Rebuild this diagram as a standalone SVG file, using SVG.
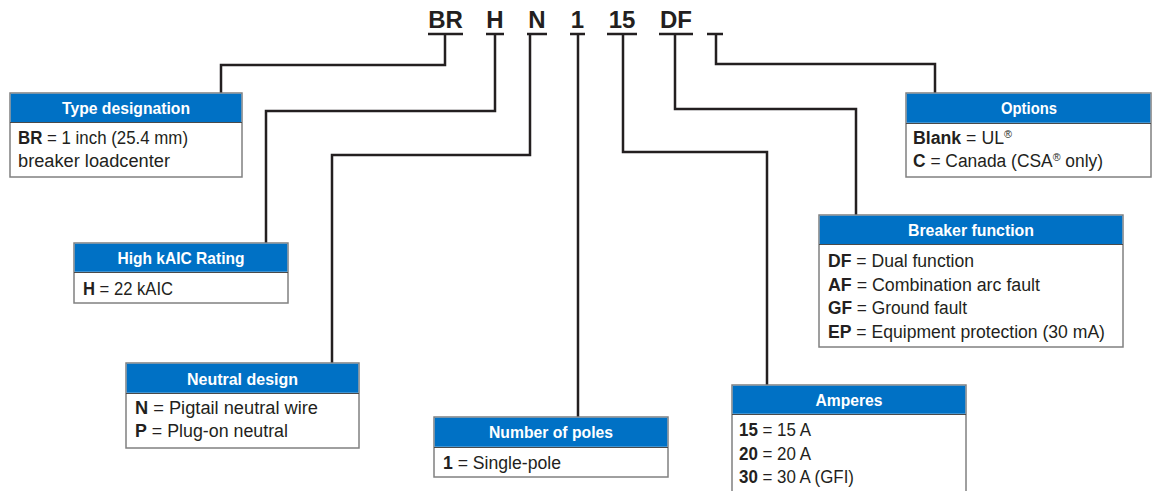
<svg xmlns="http://www.w3.org/2000/svg" width="1154" height="491" viewBox="0 0 1154 491">
<style>
.code{font-family:"Liberation Sans",Arial,sans-serif;font-weight:bold;font-size:24px;fill:#231f20;text-anchor:middle}
.hdr{font-family:"Liberation Sans",Arial,sans-serif;font-weight:bold;font-size:16.5px;fill:#fff;text-anchor:middle}
.txt{font-family:"Liberation Sans",Arial,sans-serif;font-size:18px;fill:#231f20}
.b{font-weight:bold}
.sup{font-size:11px}
.box{fill:#fff;stroke:#808080;stroke-width:1.5}
.head{fill:#0071c5}
.sep{stroke:#4a4a4a;stroke-width:1.2}
.con{fill:none;stroke:#231f20;stroke-width:2.5}
</style>
<rect width="1154" height="491" fill="#fff"/>
<g id="code">
<text class="code" x="445.5" y="28">BR</text>
<text class="code" x="495" y="28">H</text>
<text class="code" x="537" y="28">N</text>
<text class="code" x="577.5" y="28">1</text>
<text class="code" x="622" y="28">15</text>
<text class="code" x="676" y="28">DF</text>
</g>
<g id="connectors" class="con">
<path d="M428,34H463M486,34H504M527,34H547M570,34H585M607,34H637M659,34H693M707,34H723"/>
<path d="M445,34V65H221V93"/>
<path d="M495,34V111H266V243"/>
<path d="M530,34V155H332V363"/>
<path d="M578,34V417"/>
<path d="M623,34V152H767V385"/>
<path d="M675,34V109H856V215"/>
<path d="M716,34V64H935V93"/>
</g>
<g id="type">
<rect class="box" x="10" y="93" width="232" height="84"/>
<rect class="head" x="10.75" y="93.75" width="230.5" height="28.5"/>
<line class="sep" x1="10" y1="122.5" x2="242" y2="122.5"/>
<text class="hdr" x="126" y="114" textLength="128" lengthAdjust="spacingAndGlyphs">Type designation</text>
<text class="txt" x="18" y="144" textLength="170" lengthAdjust="spacingAndGlyphs"><tspan class="b">BR</tspan> = 1 inch (25.4 mm)</text>
<text class="txt" x="18" y="167" textLength="152" lengthAdjust="spacingAndGlyphs">breaker loadcenter</text>
</g>
<g id="kaic">
<rect class="box" x="74" y="243" width="214" height="60"/>
<rect class="head" x="74.75" y="243.75" width="212.5" height="28"/>
<line class="sep" x1="74" y1="272.5" x2="288" y2="272.5"/>
<text class="hdr" x="181" y="264" textLength="127" lengthAdjust="spacingAndGlyphs">High kAIC Rating</text>
<text class="txt" x="83" y="295" textLength="90" lengthAdjust="spacingAndGlyphs"><tspan class="b">H</tspan> = 22 kAIC</text>
</g>
<g id="neutral">
<rect class="box" x="126" y="363" width="233" height="85"/>
<rect class="head" x="126.75" y="363.75" width="231.5" height="29"/>
<line class="sep" x1="126" y1="393.5" x2="359" y2="393.5"/>
<text class="hdr" x="242.5" y="385" textLength="111" lengthAdjust="spacingAndGlyphs">Neutral design</text>
<text class="txt" x="135" y="414" textLength="183" lengthAdjust="spacingAndGlyphs"><tspan class="b">N</tspan> = Pigtail neutral wire</text>
<text class="txt" x="135" y="437" textLength="153" lengthAdjust="spacingAndGlyphs"><tspan class="b">P</tspan> = Plug-on neutral</text>
</g>
<g id="poles">
<rect class="box" x="434" y="417" width="234" height="60"/>
<rect class="head" x="434.75" y="417.75" width="232.5" height="29"/>
<line class="sep" x1="434" y1="447.5" x2="668" y2="447.5"/>
<text class="hdr" x="551" y="438" textLength="124" lengthAdjust="spacingAndGlyphs">Number of poles</text>
<text class="txt" x="443" y="469" textLength="118" lengthAdjust="spacingAndGlyphs"><tspan class="b">1</tspan> = Single-pole</text>
</g>
<g id="amperes">
<rect class="box" x="732" y="385" width="234" height="112"/>
<rect class="head" x="732.75" y="385.75" width="232.5" height="28"/>
<line class="sep" x1="732" y1="414.5" x2="966" y2="414.5"/>
<text class="hdr" x="849" y="406" textLength="67" lengthAdjust="spacingAndGlyphs">Amperes</text>
<text class="txt" x="739" y="436" textLength="72" lengthAdjust="spacingAndGlyphs"><tspan class="b">15</tspan> = 15 A</text>
<text class="txt" x="739" y="460" textLength="72" lengthAdjust="spacingAndGlyphs"><tspan class="b">20</tspan> = 20 A</text>
<text class="txt" x="739" y="483" textLength="115" lengthAdjust="spacingAndGlyphs"><tspan class="b">30</tspan> = 30 A (GFI)</text>
</g>
<g id="function">
<rect class="box" x="819" y="215" width="304" height="132"/>
<rect class="head" x="819.75" y="215.75" width="302.5" height="28.5"/>
<line class="sep" x1="819" y1="244.5" x2="1123" y2="244.5"/>
<text class="hdr" x="971" y="236" textLength="126" lengthAdjust="spacingAndGlyphs">Breaker function</text>
<text class="txt" x="828" y="267" textLength="146" lengthAdjust="spacingAndGlyphs"><tspan class="b">DF</tspan> = Dual function</text>
<text class="txt" x="828" y="291" textLength="212" lengthAdjust="spacingAndGlyphs"><tspan class="b">AF</tspan> = Combination arc fault</text>
<text class="txt" x="828" y="314" textLength="139" lengthAdjust="spacingAndGlyphs"><tspan class="b">GF</tspan> = Ground fault</text>
<text class="txt" x="828" y="338" textLength="277" lengthAdjust="spacingAndGlyphs"><tspan class="b">EP</tspan> = Equipment protection (30 mA)</text>
</g>
<g id="options">
<rect class="box" x="906" y="93" width="245" height="84"/>
<rect class="head" x="906.75" y="93.75" width="243.5" height="29"/>
<line class="sep" x1="906" y1="123.5" x2="1151" y2="123.5"/>
<text class="hdr" x="1029" y="114" textLength="56" lengthAdjust="spacingAndGlyphs">Options</text>
<text class="txt" x="913" y="144" textLength="99" lengthAdjust="spacingAndGlyphs"><tspan class="b">Blank</tspan> = UL<tspan class="sup" dy="-6">®</tspan></text>
<text class="txt" x="913" y="167" textLength="190" lengthAdjust="spacingAndGlyphs"><tspan class="b">C</tspan> = Canada (CSA<tspan class="sup" dy="-6">®</tspan><tspan dy="6"> only)</tspan></text>
</g>
</svg>
